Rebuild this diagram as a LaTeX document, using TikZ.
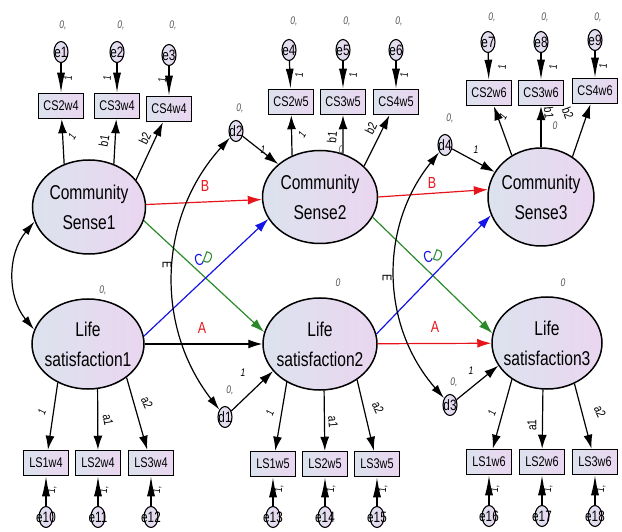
\documentclass[tikz,border=0pt]{standalone}
\usepackage{fontspec}
\setmainfont{Liberation Sans}[FakeStretch=0.78]
\usetikzlibrary{arrows.meta,shapes.geometric}

\definecolor{lavL}{HTML}{DCE2EE}
\definecolor{lavR}{HTML}{EAD6F0}
\definecolor{zgray}{HTML}{555555}
\definecolor{pathred}{HTML}{E8141B}
\definecolor{pathgreen}{HTML}{2A8A2A}
\definecolor{pathblue}{HTML}{1414E6}

\tikzset{
  latent/.style={ellipse, draw, line width=1.5pt, left color=lavL, right color=lavR, inner sep=0pt},
  ltext/.style={align=center, font=\fontsize{20}{30}\selectfont},
  obs/.style={rectangle, draw, line width=1.5pt, left color=lavL, right color=lavR,
    minimum width=45pt, minimum height=25pt, inner sep=0pt, font=\fontsize{14}{16}\selectfont},
  err/.style={ellipse, draw, line width=1.1pt, left color=lavL, right color=lavR,
    minimum width=14pt, minimum height=21pt, inner sep=0pt},
  etext/.style={font=\fontsize{15}{16}\selectfont},
  pth/.style={line width=1.2pt, -{Latex[length=14pt,width=9pt]}},
  epth/.style={line width=1.2pt, -{Latex[length=20pt,width=8pt]}},
  cov/.style={line width=1.2pt, {Latex[length=14pt,width=8pt]}-{Latex[length=14pt,width=8pt]}},
  coef/.style={font=\fontsize{13}{14}\selectfont},
  one/.style={font=\fontsize{11}{12}\selectfont\itshape},
  zero/.style={font=\fontsize{11}{12}\selectfont\itshape, text=zgray},
  sym/.style={font=\fontsize{16}{18}\selectfont},
}

\begin{document}
\begin{tikzpicture}[x=1pt,y=1pt]
\useasboundingbox (0,0) rectangle (622,531);

% latent variables
\node[latent, minimum width=113pt, minimum height=94pt, label={[ltext]center:Community\\Sense1}] (CS1) at (89,324) {};
\node[latent, minimum width=112pt, minimum height=90pt, label={[ltext]center:Life\\satisfaction1}] (LS1) at (88,187) {};
\node[latent, minimum width=115pt, minimum height=93pt, label={[ltext]center:Community\\Sense2}] (CS2) at (320,334) {};
\node[latent, minimum width=114pt, minimum height=92pt, label={[ltext]center:Life\\satisfaction2}] (LS2) at (320,187) {};
\node[latent, minimum width=106pt, minimum height=98pt, label={[ltext]center:Community\\Sense3}] (CS3) at (541,334) {};
\node[latent, minimum width=110pt, minimum height=92pt, label={[ltext]center:Life\\satisfaction3}] (LS3) at (547,188) {};

% observed, top row
\node[obs] (CS2w4) at (61,425) {CS2w4};
\node[obs] (CS3w4) at (117,425) {CS3w4};
\node[obs] (CS4w4) at (169,422) {CS4w4};
\node[obs] (CS2w5) at (291,429) {CS2w5};
\node[obs] (CS3w5) at (343,429) {CS3w5};
\node[obs] (CS4w5) at (396,429) {CS4w5};
\node[obs] (CS2w6) at (489,438) {CS2w6};
\node[obs] (CS3w6) at (541,438) {CS3w6};
\node[obs] (CS4w6) at (595,440) {CS4w6};

% observed, bottom row
\node[obs] (LS1w4) at (46,68) {LS1w4};
\node[obs] (LS2w4) at (98,68) {LS2w4};
\node[obs] (LS3w4) at (151,68) {LS3w4};
\node[obs] (LS1w5) at (273,67) {LS1w5};
\node[obs] (LS2w5) at (325,67) {LS2w5};
\node[obs] (LS3w5) at (377,67) {LS3w5};
\node[obs] (LS1w6) at (489,69) {LS1w6};
\node[obs] (LS2w6) at (542,69) {LS2w6};
\node[obs] (LS3w6) at (595,69) {LS3w6};

% errors
\node[err, label={[etext]center:e1}] (e1) at (61,479) {};
\node[err, label={[etext]center:e2}] (e2) at (117,479) {};
\node[err, label={[etext]center:e3}] (e3) at (169,476) {};
\node[err, label={[etext]center:e4}] (e4) at (289,481) {};
\node[err, label={[etext]center:e5}] (e5) at (343,481) {};
\node[err, label={[etext]center:e6}] (e6) at (396,481) {};
\node[err, label={[etext]center:e7}] (e7) at (488,489) {};
\node[err, label={[etext]center:e8}] (e8) at (541,489) {};
\node[err, label={[etext]center:e9}] (e9) at (595,491) {};
\node[err, label={[etext]center:e10}] (e10) at (46,14) {};
\node[err, label={[etext]center:e11}] (e11) at (98,14) {};
\node[err, label={[etext]center:e12}] (e12) at (151,14) {};
\node[err, label={[etext]center:e13}] (e13) at (273,14) {};
\node[err, label={[etext]center:e14}] (e14) at (325,14) {};
\node[err, label={[etext]center:e15}] (e15) at (377,14) {};
\node[err, label={[etext]center:e16}] (e16) at (489,15) {};
\node[err, label={[etext]center:e17}] (e17) at (542,15) {};
\node[err, label={[etext]center:e18}] (e18) at (595,15) {};

% disturbances
\node[err, label={[etext]center:d1}] (d1) at (225,114) {};
\node[err, label={[etext]center:d2}] (d2) at (236,400) {};
\node[err, label={[etext]center:d3}] (d3) at (450,126) {};
\node[err, label={[etext]center:d4}] (d4) at (445,386) {};

% errors -> indicators
\draw[epth] (e1) -- (CS2w4);
\draw[epth] (e2) -- (CS3w4);
\draw[epth] (e3) -- (CS4w4);
\draw[epth] (e4) -- (CS2w5);
\draw[epth] (e5) -- (CS3w5);
\draw[epth] (e6) -- (CS4w5);
\draw[epth] (e7) -- (CS2w6);
\draw[epth] (e8) -- (CS3w6);
\draw[epth] (e9) -- (CS4w6);
\draw[epth] (e10) -- (LS1w4);
\draw[epth] (e11) -- (LS2w4);
\draw[epth] (e12) -- (LS3w4);
\draw[epth] (e13) -- (LS1w5);
\draw[epth] (e14) -- (LS2w5);
\draw[epth] (e15) -- (LS3w5);
\draw[epth] (e16) -- (LS1w6);
\draw[epth] (e17) -- (LS2w6);
\draw[epth] (e18) -- (LS3w6);

% loadings
\draw[pth] (CS1.120) -- (CS2w4);
\draw[pth] (CS1.60) -- (CS3w4);
\draw[pth] (CS1.30) -- (CS4w4);
\draw[pth] (CS2.124) -- (CS2w5);
\draw[pth] (CS2.62) -- (CS3w5);
\draw[pth] (CS2.35) -- (CS4w5);
\draw[pth] (CS3.125) -- (CS2w6);
\draw[pth] (CS3.90) -- (CS3w6);
\draw[pth] (CS3.52) -- (CS4w6);
\draw[pth] (LS1.232) -- (LS1w4);
\draw[pth] (LS1.282) -- (LS2w4);
\draw[pth] (LS1.319) -- (LS3w4);
\draw[pth] (LS2.229) -- (LS1w5);
\draw[pth] (LS2.275) -- (LS2w5);
\draw[pth] (LS2.316) -- (LS3w5);
\draw[pth] (LS3.226) -- (LS1w6);
\draw[pth] (LS3.265) -- (LS2w6);
\draw[pth] (LS3.304) -- (LS3w6);

% structural paths, wave 4 -> 5
\draw[pth, pathred] (CS1) -- (CS2);
\draw[pth, pathgreen] (CS1.-14) -- (LS2.168);
\draw[pth, pathblue] (LS1.8) -- (CS2.203);
\draw[pth] (LS1) -- (LS2);
% wave 5 -> 6
\draw[pth, pathred] (CS2.east) -- (CS3.172);
\draw[pth, pathgreen] (CS2.-21) -- (LS3.170);
\draw[pth, pathblue] (LS2.10) -- (CS3.200);
\draw[pth, pathred] (LS2) -- (LS3);

% disturbances -> latents
\draw[pth] (d2) -- (CS2);
\draw[pth] (d1) -- (LS2.210);
\draw[pth] (d4) -- (CS3);
\draw[pth] (d3) -- (LS3.205);

% covariances
\draw[cov] (CS1.195) to[bend right=40] (LS1.165);
\draw[cov] (d1) to[bend left=40] (d2);
\draw[cov] (d3) to[bend left=40] (d4);

% path labels
\node[sym, pathred] (lB1) at (205,345) {B};
\node[sym, pathred] (lA1) at (202,203) {A};
\node[sym, pathblue, rotate=15] (lC1) at (199,271) {C};
\node[sym, pathgreen, rotate=-20] (lD1) at (208,273) {D};
\node[sym, pathred] (lB2) at (432,348) {B};
\node[sym, pathred] (lA2) at (435,204) {A};
\node[sym, pathblue, rotate=15] (lC2) at (428,274) {C};
\node[sym, pathgreen, rotate=-20] (lD2) at (438,275) {D};
\node[coef, rotate=-90] (lE1) at (167,266) {E};
\node[coef, rotate=-90] (lE2) at (387,253) {E};

% loading labels
\node[one, rotate=60] (l1a) at (72,394) {1};
\node[coef, rotate=80] (lb1a) at (104,390) {b1};
\node[coef, rotate=64] (lb2a) at (145,393) {b2};
\node[one, rotate=60] (l1b) at (302,396) {1};
\node[coef, rotate=85] (lb1b) at (332,394) {b1};
\node[zero] (l0b) at (341,381) {0};
\node[coef, rotate=63] (lb2b) at (371,403) {b2};
\node[one, rotate=60] (l1c) at (503,414) {1};
\node[coef, rotate=-85] (lb1c) at (549,418) {b1};
\node[zero] (l0c) at (555,405) {0};
\node[coef, rotate=-70] (lb2c) at (568,418) {b2};
\node[one, rotate=70] (l1d) at (42,119) {1};
\node[coef, rotate=-80] (la1d) at (108,111) {a1};
\node[coef, rotate=-65] (la2d) at (147,128) {a2};
\node[one, rotate=70] (l1e) at (270,118) {1};
\node[coef, rotate=-85] (la1e) at (333,109) {a1};
\node[coef, rotate=-65] (la2e) at (378,123) {a2};
\node[one, rotate=70] (l1f) at (492,118) {1};
\node[coef, rotate=90] (la1f) at (532,106) {a1};
\node[coef, rotate=-65] (la2f) at (600,119) {a2};

% error labels
\node[zero] (z1) at (63,506) {0,};
\node[zero] (z2) at (121,506) {0,};
\node[zero] (z3) at (173,506) {0,};
\node[zero] (z4) at (294,510) {0,};
\node[zero] (z5) at (347,510) {0,};
\node[zero] (z6) at (399,510) {0,};
\node[zero] (z7) at (492,514) {0,};
\node[zero] (z8) at (545,514) {0,};
\node[zero] (z9) at (598,514) {0,};
\node[one, rotate=90] (o1) at (68,453) {1};
\node[one, rotate=90] (o2) at (107,453) {1};
\node[one, rotate=90] (o3) at (162,451) {1};
\node[one, rotate=90] (o4) at (299,456) {1};
\node[one, rotate=90] (o5) at (353,456) {1};
\node[one, rotate=90] (o6) at (404,456) {1};
\node[one, rotate=90] (o7) at (502,464) {1};
\node[one, rotate=90] (o8) at (553,464) {1};
\node[one, rotate=90] (o9) at (603,465) {1};
\node[one, rotate=90] (o10) at (52,41) {1,};
\node[one, rotate=90] (o11) at (104,41) {1,};
\node[one, rotate=90] (o12) at (157,41) {1,};
\node[one, rotate=90] (o13) at (279,42) {1,};
\node[one, rotate=90] (o14) at (331,42) {1,};
\node[one, rotate=90] (o15) at (383,42) {1,};
\node[one, rotate=90] (o16) at (495,42) {1,};
\node[one, rotate=90] (o17) at (548,42) {1,};
\node[one, rotate=90] (o18) at (601,42) {1,};

% disturbance and latent labels
\node[zero] (zd2) at (240,423) {0,};
\node[zero] (zd4) at (450,413) {0,};
\node[zero] (zd1) at (230,141) {0,};
\node[zero] (zd3) at (454,149) {0,};
\node[one] (od2) at (263,381) {1};
\node[one] (od4) at (476,381) {1};
\node[one] (od1) at (243,158) {1};
\node[one] (od3) at (471,160) {1};
\node[zero] (zL1) at (103,241) {0,};
\node[zero] (zL2) at (338,248) {0};
\node[zero] (zL3) at (563,248) {0};
\end{tikzpicture}
\end{document}
